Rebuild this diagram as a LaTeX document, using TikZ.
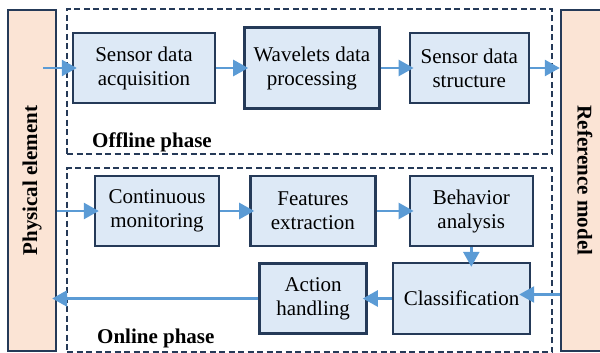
\documentclass[tikz,border=0pt]{standalone}
\usepackage{fontspec}
\setmainfont{Liberation Serif}
\usetikzlibrary{positioning, arrows.meta}
\definecolor{boxfill}{RGB}{221,233,246}
\definecolor{boxline}{RGB}{37,58,88}
\definecolor{barfill}{RGB}{251,228,213}
\definecolor{flowblue}{RGB}{91,155,213}
\tikzset{node distance=27pt,
  block/.style={draw=boxline, line width=2.4pt, fill=boxfill, align=center, minimum height=70pt, font=\fontsize{21}{24}\selectfont},
  bar/.style={draw=boxline, line width=2.4pt, fill=barfill, minimum width=48pt, minimum height=341pt, inner sep=0pt, font=\fontsize{21}{24}\selectfont\bfseries},
  phase/.style={draw=boxline, line width=2.2pt, dash pattern=on 6pt off 3.5pt, minimum width=485pt},
  phaselabel/.style={inner sep=0pt, font=\fontsize{21}{24}\selectfont\bfseries},
  every edge/.style={draw=flowblue, line width=2.6pt, -{Triangle[length=15pt,width=16pt]}, shorten >=-5pt}}

\begin{document}
\begin{tikzpicture}[x=1pt, y=-1pt]
            \useasboundingbox (0,0) rectangle (600,353);
            % phases
            \node[phase, minimum height=145pt] (offline) at (309.5,81.5) {};
            \node[phase, minimum height=184pt] (online) at (309.5,260) {};
            \node[phaselabel, anchor=west] (offlab) at (92,142) {Offline phase};
            \node[phaselabel, anchor=west] (onlab) at (97,338) {Online phase};
            % side bars
            \node[bar] (phys) at (32,180.5) {\rotatebox{90}{Physical element}};
            \node[bar] (ref) at (585,180.5) {\rotatebox{-90}{Reference model}};
            % offline blocks
            \node[block, minimum width=142pt] (acq) at (144,68) {Sensor data\\acquisition};
            \node[block, minimum width=135pt, minimum height=81pt, right=of acq] (wav) {Wavelets data\\processing};
            \node[block, minimum width=119pt, right=28pt of wav] (struct) {Sensor data\\structure};
            % online blocks
            \node[block, minimum width=124pt] (cont) at (157,211) {Continuous\\monitoring};
            \node[block, minimum width=125pt, right=29pt of cont] (feat) {Features\\extraction};
            \node[block, minimum width=123pt, right=32pt of feat] (behav) {Behavior\\analysis};
            \node[block, minimum width=137pt, minimum height=71pt] (class) at (461.5,298.5) {Classification};
            \node[block, minimum width=107pt, left=24pt of class] (act) {Action\\handling};
            \coordinate (refin) at (ref.west |- class.east);

            \draw   (phys.east |- acq.west) edge[shorten <=-14pt] (acq)
                    (acq) edge (wav)
                    (wav) edge (struct)
                    (struct) edge[shorten >=0pt] (struct.east -| ref.west)
                    (phys.east |- cont.west) edge (cont)
                    (cont) edge (feat)
                    (feat) edge (behav)
                    (behav.south) edge (behav.south |- class.north)
                    ([yshift=4pt]refin) edge[shorten >=-12pt] ([yshift=4pt]class.east)
                    (class) edge (act)
                    (act.west) edge (act.west -| phys.east);
        \end{tikzpicture}
\end{document}
